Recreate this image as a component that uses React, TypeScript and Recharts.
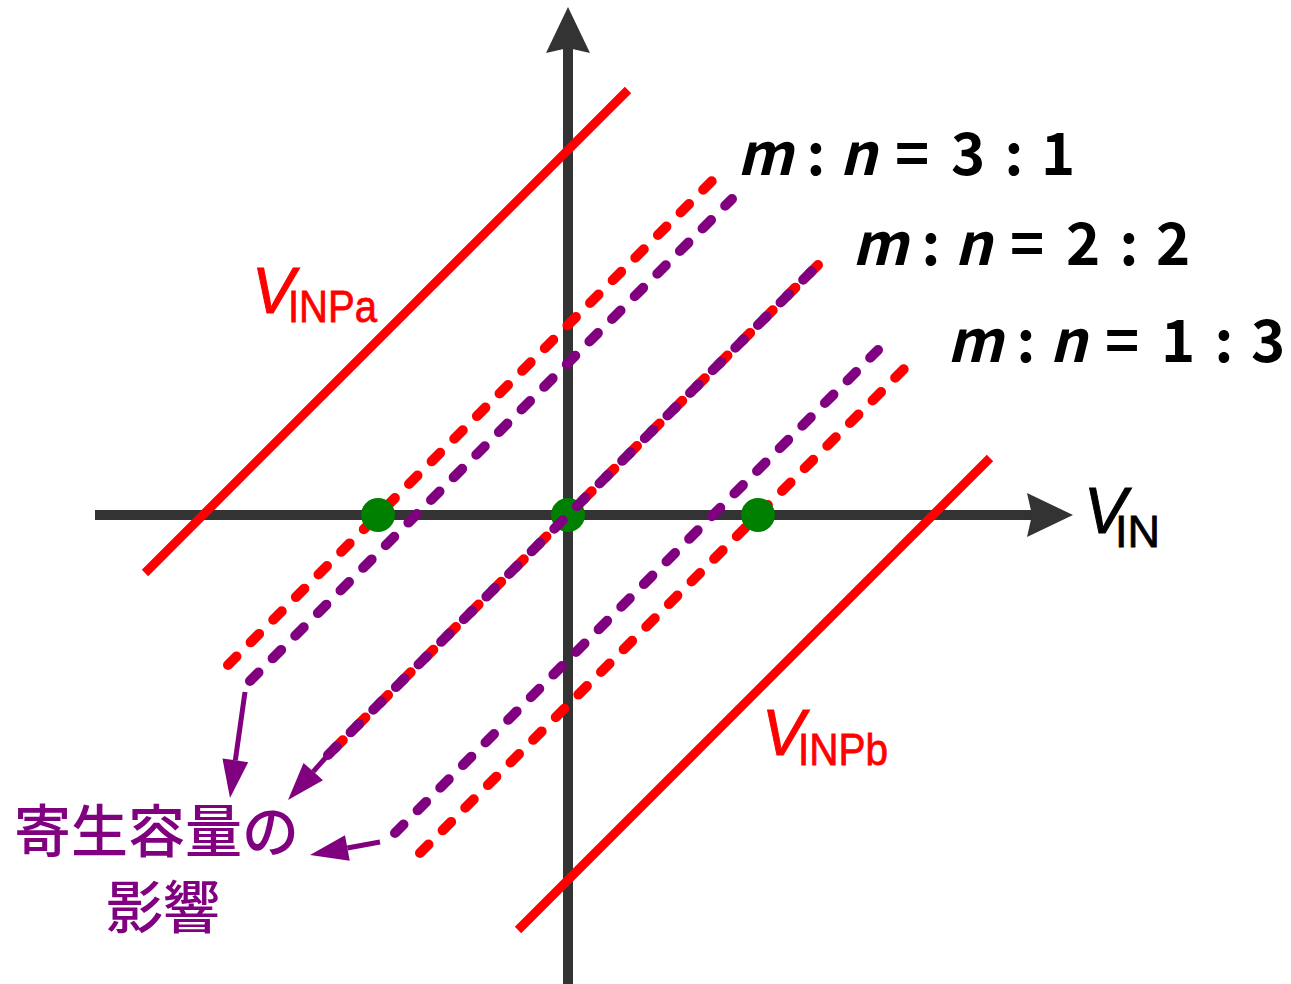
import React from 'react';
import { ComposedChart, Line, Scatter, XAxis, YAxis, ReferenceLine } from 'recharts';

// input/output lines (units: arbitrary, origin at the axes crossing)
const vinpa = [{ x: -423, y: -58 }, { x: 60, y: 425 }];
const vinpb = [{ x: -50, y: -415 }, { x: 422, y: 57 }];
const red31 = [{ x: -340, y: -150 }, { x: 147, y: 337 }];
const purple31 = [{ x: -318, y: -166 }, { x: 164, y: 316 }];
const red22 = [{ x: -245, y: -245 }, { x: 250, y: 250 }];
const purple22 = [{ x: -240, y: -240 }, { x: 250, y: 250 }];
const purple13 = [{ x: -173, y: -318 }, { x: 310, y: 165 }];
const red13 = [{ x: -148, y: -338 }, { x: 337, y: 147 }];
const crossPoints = [{ x: -190, y: 0 }, { x: 0, y: 0 }, { x: 190, y: 0 }];

// arrows pointing to the label
const noteArrows = [
  [{ x: -323, y: -177 }, { x: -338, y: -283 }],
  [{ x: -240, y: -240 }, { x: -280, y: -285 }],
  [{ x: -188, y: -327 }, { x: -258, y: -340 }],
];
const axisH = [{ x: -473, y: 0 }, { x: 505, y: 0 }];
const axisV = [{ x: 0, y: -469 }, { x: 0, y: 508 }];

const ratios = [
  { m: '3', n: '1' },
  { m: '2', n: '2' },
  { m: '1', n: '3' },
];

const RED = '#ff0000';
const PURPLE = '#800080';
const GREEN = '#008000';
const AXIS = '#333333';

const arrowShape = (color: string, w: number, len: number, half: number, notch: number) => (p: any) => {
  const { x1, y1, x2, y2 } = p;
  const dx = x2 - x1;
  const dy = y2 - y1;
  const L = Math.hypot(dx, dy) || 1;
  const ux = dx / L, uy = dy / L;
  const nx = -uy, ny = ux;
  const bx = x2 - ux * len, by = y2 - uy * len;
  const mx = x2 - ux * (len - notch), my = y2 - uy * (len - notch);
  const pts = `${x2},${y2} ${bx + nx * half},${by + ny * half} ${mx},${my} ${bx - nx * half},${by - ny * half}`;
  return (
    <g>
      <line x1={x1} y1={y1} x2={mx} y2={my} stroke={color} strokeWidth={w} />
      <polygon points={pts} fill={color} />
    </g>
  );
};

const MnLabel = ({ x, y, a, b }: { x: number; y: number; a: string; b: string }) => {
  const glyphs = [
    { t: 'm', dx: 25, it: true },
    { t: ':', dx: 76 },
    { t: 'n', dx: 118, it: true },
    { t: '=', dx: 172 },
    { t: a, dx: 228 },
    { t: ':', dx: 274 },
    { t: b, dx: 318 },
  ];
  return (
    <text y={y} fontFamily="'Noto Sans CJK JP', sans-serif" fontSize={58} fontWeight={700} fill="#000" textAnchor="middle">
      {glyphs.map((g, i) => (
        <tspan key={i} x={x + g.dx} fontStyle={g.it ? 'italic' : 'normal'}>{g.t}</tspan>
      ))}
    </text>
  );
};

const VLabel = ({ x, y, sub, color, subDx, subDy, subLen }: any) => (
  <g fill={color} fontFamily="'Liberation Sans', Arial, sans-serif">
    <text x={x} y={y} fontSize={64} fontStyle="italic" stroke={color} strokeWidth={1}>V</text>
    <text x={x + subDx} y={y + subDy} fontSize={44} textLength={subLen} lengthAdjust="spacingAndGlyphs" stroke={color} strokeWidth={0.8}>{sub}</text>
  </g>
);

const labelPos = [
  { x: 740, y: 175 },
  { x: 855, y: 265 },
  { x: 950, y: 362 },
];

export default function App() {
  const dash = { strokeWidth: 10, strokeDasharray: '12 20', strokeLinecap: 'round' as const, dot: false, isAnimationActive: false, type: 'linear' as const, dataKey: 'y' };
  return (
    <div style={{ position: 'absolute', left: 0, top: 0, width: 1291, height: 984, background: '#fff' }}>
      <ComposedChart width={1291} height={984} margin={{ top: 0, right: 0, bottom: 0, left: 0 }}>
        <XAxis type="number" dataKey="x" domain={[-568, 723]} hide allowDataOverflow />
        <YAxis type="number" dataKey="y" domain={[-469, 515]} hide allowDataOverflow />

        <ReferenceLine segment={axisH} zIndex={100} shape={arrowShape(AXIS, 10, 46, 22, 5)} ifOverflow="visible" />
        <ReferenceLine segment={axisV} zIndex={100} shape={arrowShape(AXIS, 10, 46, 22, 5)} ifOverflow="visible" />

        <Line data={vinpa} dataKey="y" stroke={RED} strokeWidth={9} dot={false} isAnimationActive={false} type="linear" zIndex={400} />
        <Line data={vinpb} dataKey="y" stroke={RED} strokeWidth={9} dot={false} isAnimationActive={false} type="linear" zIndex={400} />
        <Line data={red31} stroke={RED} {...dash} zIndex={400} />
        <Line data={red22} stroke={RED} {...dash} strokeDashoffset={16} zIndex={400} />
        <Line data={red13} stroke={RED} {...dash} zIndex={400} />

        <Scatter data={crossPoints} dataKey="y" fill={GREEN} isAnimationActive={false} zIndex={450}
          shape={(p: any) => <circle cx={p.cx} cy={p.cy} r={17} fill={GREEN} />} />

        <Line data={purple31} stroke={PURPLE} {...dash} zIndex={500} />
        <Line data={purple22} stroke={PURPLE} {...dash} zIndex={500} />
        <Line data={purple13} stroke={PURPLE} {...dash} zIndex={500} />

        {noteArrows.map((seg, i) => (
          <ReferenceLine key={i} segment={seg} zIndex={600} shape={arrowShape(PURPLE, 5, 38, 13, 0)} ifOverflow="visible" />
        ))}
      </ComposedChart>
      <svg width={1291} height={984} style={{ position: 'absolute', left: 0, top: 0 }}>
        {ratios.map((r, i) => (
          <MnLabel key={i} x={labelPos[i].x} y={labelPos[i].y} a={r.m} b={r.n} />
        ))}
        <VLabel x={252} y={313} sub="INPa" color={RED} subDx={36} subDy={9} subLen={89} />
        <VLabel x={762} y={755} sub="INPb" color={RED} subDx={36} subDy={10} subLen={90} />
        <VLabel x={1084} y={533} sub="IN" color="#000" subDx={31} subDy={14} subLen={45} />
        <g fill={PURPLE} fontFamily="'Noto Sans CJK JP', sans-serif" fontSize={57} fontWeight={500}>
          <text x={14} y={852}>寄生容量の</text>
          <text x={163} y={928} textAnchor="middle">影響</text>
        </g>
      </svg>
    </div>
  );
}
